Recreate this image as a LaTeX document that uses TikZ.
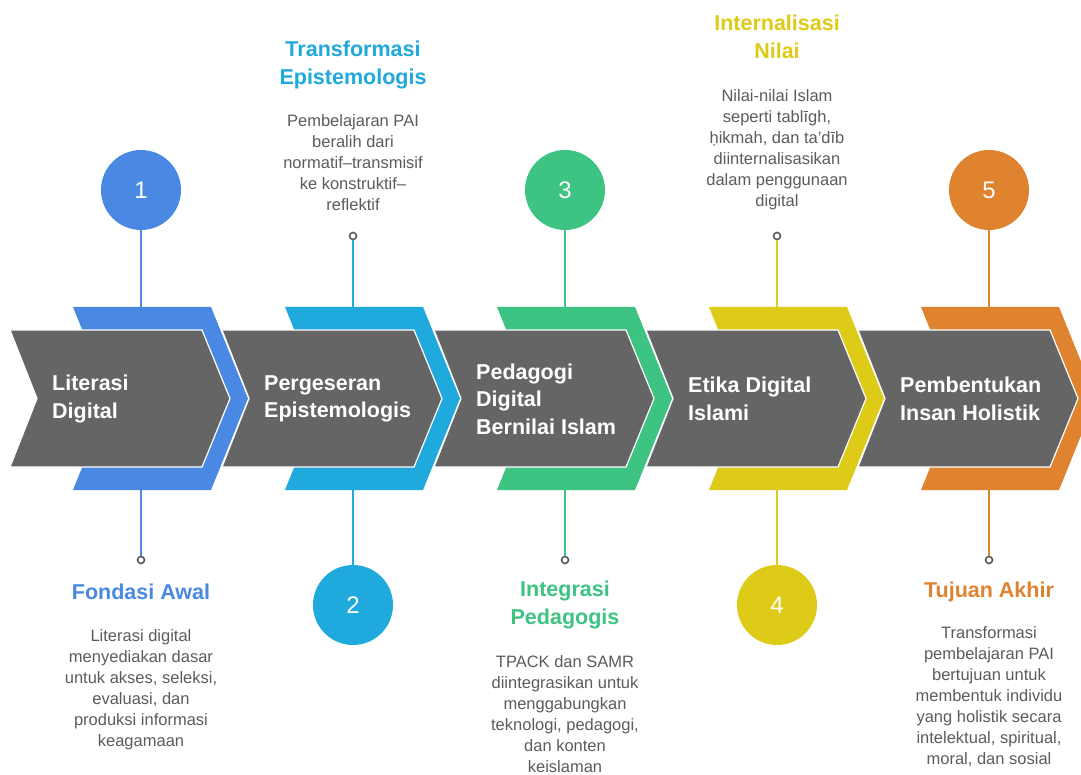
\documentclass[tikz,border=0pt]{standalone}
\usepackage{fontspec}
\setmainfont{Liberation Sans}
\usepackage{tikz}

\definecolor{cBlue}{HTML}{4A89E3}
\definecolor{cCyan}{HTML}{1FA9DC}
\definecolor{cGreen}{HTML}{3DC482}
\definecolor{cYellow}{HTML}{DDCB17}
\definecolor{cOrange}{HTML}{E0832F}
\definecolor{chevGray}{HTML}{656565}
\definecolor{descGray}{HTML}{5C5C5C}
\definecolor{pinGray}{HTML}{5A5A5A}

\tikzset{
  num/.style={circle,minimum size=80pt,inner sep=0pt,text=white,font=\fontsize{24}{28}\selectfont},
  pin/.style={circle,draw=pinGray,fill=white,line width=1.6pt,minimum size=7pt,inner sep=0pt},
  ttl/.style={align=center,inner sep=0pt,font=\bfseries\fontsize{21.5}{28}\selectfont},
  desc/.style={align=center,inner sep=0pt,text=descGray,font=\fontsize{16.5}{21}\selectfont},
  lbl/.style={anchor=west,align=left,inner sep=0pt,text=white,font=\bfseries\fontsize{21.5}{27.5}\selectfont},
  link/.style={line width=2pt}
}

% colored back chevron and gray front chevron, #1 = x offset
\newcommand{\stagechev}[2]{%
  \fill[#2] ({73+#1},307) -- ({211+#1},307) -- ({248+#1},398.5) -- ({211+#1},490)
    -- ({73+#1},490) -- ({110+#1},398.5) -- cycle;
  \filldraw[fill=chevGray,draw=white,line width=1.2pt] ({10+#1},330) -- ({202+#1},330)
    -- ({230+#1},398.5) -- ({202+#1},467) -- ({10+#1},467) -- ({37+#1},398.5) -- cycle;}

\begin{document}
\begin{tikzpicture}[x=1pt,y=-1pt]
\clip (0,0) rectangle (1081,775);
\fill[white] (0,0) rectangle (1081,775);

\stagechev{0}{cBlue}
\stagechev{212}{cCyan}
\stagechev{424}{cGreen}
\stagechev{636}{cYellow}
\stagechev{848}{cOrange}

\node[lbl] (s1) at (52,399) {Literasi\\Digital};
\node[lbl] (s2) at (264,399) {Pergeseran\\Epistemologis};
\node[lbl] (s3) at (476,399) {Pedagogi\\Digital\\Bernilai Islam};
\node[lbl] (s4) at (688,399) {Etika Digital\\Islami};
\node[lbl] (s5) at (900,399) {Pembentukan\\Insan Holistik};

% top and bottom ends of the colored chevrons
\coordinate (u1) at (141,307); \coordinate (b1) at (141,490);
\coordinate (u2) at (353,307); \coordinate (b2) at (353,490);
\coordinate (u3) at (565,307); \coordinate (b3) at (565,490);
\coordinate (u4) at (777,307); \coordinate (b4) at (777,490);
\coordinate (u5) at (989,307); \coordinate (b5) at (989,490);

\node[num,fill=cBlue] (c1) at (141,190) {1};
\node[num,fill=cCyan] (c2) at (353,605) {2};
\node[num,fill=cGreen] (c3) at (565,190) {3};
\node[num,fill=cYellow] (c4) at (777,605) {4};
\node[num,fill=cOrange] (c5) at (989,190) {5};

\node[pin] (p1) at (141,560) {};
\node[pin] (p2) at (353,236) {};
\node[pin] (p3) at (565,560) {};
\node[pin] (p4) at (777,236) {};
\node[pin] (p5) at (989,560) {};

\draw[link,cBlue] (c1) -- (u1);
\draw[link,cBlue] (b1) -- (p1);
\draw[link,cCyan] (p2) -- (u2);
\draw[link,cCyan] (b2) -- (c2);
\draw[link,cGreen] (c3) -- (u3);
\draw[link,cGreen] (b3) -- (p3);
\draw[link,cYellow] (p4) -- (u4);
\draw[link,cYellow] (b4) -- (c4);
\draw[link,cOrange] (c5) -- (u5);
\draw[link,cOrange] (b5) -- (p5);

\node[ttl,text=cBlue] (t1) at (141,592) {Fondasi Awal};
\node[ttl,text=cCyan] (t2) at (353,65) {Transformasi\\Epistemologis};
\node[ttl,text=cGreen] (t3) at (565,605) {Integrasi\\Pedagogis};
\node[ttl,text=cYellow] (t4) at (777,37) {Internalisasi\\Nilai};
\node[ttl,text=cOrange] (t5) at (989,592) {Tujuan Akhir};

\node[desc] (d1) at (141,690) {Literasi digital\\menyediakan dasar\\untuk akses, seleksi,\\evaluasi, dan\\produksi informasi\\keagamaan};
\node[desc] (d2) at (353,163) {Pembelajaran PAI\\beralih dari\\normatif–transmisif\\ke konstruktif–\\reflektif};
\node[desc] (d3) at (565,714) {TPACK dan SAMR\\diintegrasikan untuk\\menggabungkan\\teknologi, pedagogi,\\dan konten\\keislaman};
\node[desc] (d4) at (777,150) {Nilai-nilai Islam\\seperti tablīgh,\\ḥikmah, dan ta’dīb\\diinternalisasikan\\dalam penggunaan\\digital};
\node[desc] (d5) at (989,697) {Transformasi\\pembelajaran PAI\\bertujuan untuk\\membentuk individu\\yang holistik secara\\intelektual, spiritual,\\moral, dan sosial};
\end{tikzpicture}
\end{document}
